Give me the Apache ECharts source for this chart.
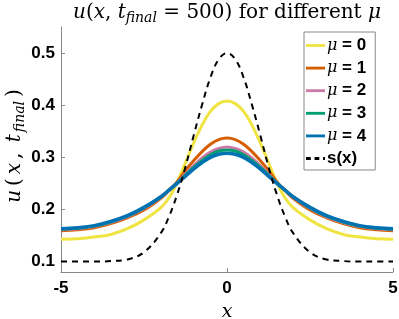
<!DOCTYPE html>
<html><head><meta charset="utf-8">
<script src="https://cdn.jsdelivr.net/npm/echarts@6/dist/echarts.min.js"></script>
<style>html,body{margin:0;padding:0;background:#fff}#c{width:399px;height:319px}</style>
</head><body><div id="c"></div>
<script>
const xs = [-5,-4.5,-4,-3.5,-3,-2.5,-2,-1.75,-1.5,-1.25,-1,-0.75,-0.5,-0.25,0,0.25,0.5,0.75,1,1.25,1.5,1.75,2,2.5,3,3.5,4,4.5,5];
const mu0 = [0.143,0.144,0.147,0.152,0.163,0.180,0.203,0.222,0.252,0.290,0.328,0.362,0.388,0.403,0.408,0.403,0.388,0.362,0.328,0.290,0.252,0.222,0.203,0.180,0.163,0.152,0.147,0.144,0.143];
const mu1 = [0.159,0.161,0.165,0.173,0.184,0.199,0.221,0.236,0.253,0.275,0.294,0.311,0.325,0.334,0.337,0.334,0.325,0.311,0.294,0.275,0.253,0.236,0.221,0.199,0.184,0.173,0.165,0.161,0.159];
const mu2 = [0.161,0.163,0.167,0.175,0.186,0.202,0.223,0.237,0.251,0.268,0.284,0.299,0.310,0.317,0.320,0.317,0.310,0.299,0.284,0.268,0.251,0.237,0.223,0.202,0.186,0.175,0.167,0.163,0.161];
const mu3 = [0.162,0.164,0.168,0.176,0.187,0.203,0.224,0.237,0.251,0.266,0.281,0.294,0.305,0.312,0.314,0.312,0.305,0.294,0.281,0.266,0.251,0.237,0.224,0.203,0.187,0.176,0.168,0.164,0.162];
const mu4 = [0.163,0.165,0.169,0.177,0.188,0.204,0.224,0.237,0.250,0.264,0.278,0.290,0.300,0.306,0.308,0.306,0.300,0.290,0.278,0.264,0.250,0.237,0.224,0.204,0.188,0.177,0.169,0.165,0.163];
const sx  = [0.100,0.100,0.100,0.101,0.104,0.118,0.154,0.186,0.229,0.282,0.343,0.401,0.453,0.488,0.500,0.488,0.453,0.401,0.343,0.282,0.229,0.186,0.154,0.118,0.104,0.101,0.100,0.100,0.100];
const xTicks = [-5,0,5];
const yTicks = [0.1,0.2,0.3,0.4,0.5];
const names = ['μ = 0','μ = 1','μ = 2','μ = 3','μ = 4','s(x)'];
const colors = ['#F0E442','#D55E00','#CC79A7','#009E73','#0072B2','#000000'];
const allData = [mu0,mu1,mu2,mu3,mu4,sx];

const pair = arr => xs.map((x,i)=>[x,arr[i]]);
const chart = echarts.init(document.getElementById('c'));
const serif = '"DejaVu Serif", "Liberation Serif", serif';
const sans = '"Liberation Sans", Arial, sans-serif';
const mathRich = (fill, pad) => ({
  it:{fontFamily:serif,fontStyle:'italic',fontWeight:'normal',fontSize:20,[fill]:'#000',lineHeight:24,padding:[0,pad,0,pad]},
  rm:{fontFamily:serif,fontWeight:'normal',fontSize:20,[fill]:'#000',lineHeight:24,padding:[0,pad,0,pad]},
  sub:{fontFamily:serif,fontStyle:'italic',fontWeight:'normal',fontSize:14,[fill]:'#000',verticalAlign:'bottom',lineHeight:18,padding:[9,pad,0,0]}
});
const lineIcon = 'path://M0,0h20v3h-20z';
const dashIcon = 'path://M0,0h5v3h-5zM9,0h5v3h-5zM18,0h2v3h-2z';
chart.setOption({
  animation:false,
  grid:{left:61,right:6,top:27,bottom:47,containLabel:false,outerBoundsMode:'none'},
  xAxis:{type:'value',min:-5,max:5,interval:5,
    axisLine:{show:true,onZero:false,lineStyle:{color:'#888',width:1}},
    axisTick:{show:true,inside:true,length:4,lineStyle:{color:'#888'},customValues:xTicks},
    axisLabel:{fontFamily:sans,fontWeight:'bold',fontSize:17,color:'#000',margin:8,customValues:xTicks},
    splitLine:{show:false},
    name:'x',nameLocation:'middle',nameGap:31,
    nameTextStyle:{fontFamily:serif,fontStyle:'italic',fontSize:19,color:'#000'}
  },
  yAxis:{type:'value',min:0.08,max:0.55,
    axisLine:{show:true,onZero:false,lineStyle:{color:'#888',width:1}},
    axisTick:{show:true,inside:true,length:4,lineStyle:{color:'#888'},customValues:yTicks},
    axisLabel:{fontFamily:sans,fontWeight:'bold',fontSize:17,color:'#000',margin:6,customValues:yTicks,formatter:v=>v.toFixed(1)},
    splitLine:{show:false}
  },
  graphic:[{
    type:'text', x:227, y:13,
    style:{
      text:'{it|u}{rm|(}{it|x}{rm|, }{it|t}{sub|final}{rm| = 500) for different }{it|μ}',
      align:'center', verticalAlign:'middle',
      rich:mathRich('fill',0)
    }
  },{
    type:'text', x:15, y:146, rotation:Math.PI/2,
    style:{
      text:'{it|u}{rm|(}{it|x}{rm|, }{it|t}{sub|final}{rm|)}',
      align:'center', verticalAlign:'middle',
      rich:mathRich('fill',2)
    }
  }],
  legend:{
    orient:'vertical', left:304, top:32,
    padding:[5,9,3,2], itemGap:5.6, itemWidth:19, itemHeight:3,
    borderColor:'#888', borderWidth:1, backgroundColor:'#fff',
    data:names.map((n,i)=>({name:n, icon: i===5?dashIcon:lineIcon})),
    formatter: n => n==='s(x)' ? '{b|s(x)}' : '{m|μ}{b|'+n.slice(1)+'}',
    textStyle:{padding:[0,0,0,-3],rich:{
      m:{fontFamily:serif,fontStyle:'italic',fontSize:16,color:'#000',lineHeight:18},
      b:{fontFamily:sans,fontWeight:'bold',fontSize:17,color:'#000',lineHeight:18}
    }}
  },
  series: allData.map((d,i)=>({
    name:names[i], type:'line', data:pair(d), symbol:'none', smooth:0.4,
    lineStyle:{color:colors[i], width: i===5?2:(i===4?3.5:3), type: i===5?[6,5]:'solid'},
    itemStyle:{color:colors[i]},
    z: 2+i
  }))
});
</script></body></html>
